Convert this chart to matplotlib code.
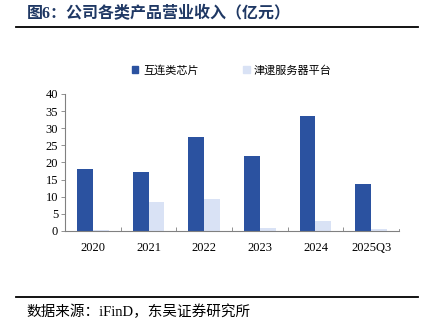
import numpy as np
import matplotlib
matplotlib.use("Agg")
import matplotlib.pyplot as plt
from matplotlib.lines import Line2D
from matplotlib.patches import Patch

plt.rcParams['font.family'] = ['Liberation Serif', 'Noto Sans CJK SC', 'DejaVu Sans']

# data (亿元)
years = ['2020', '2021', '2022', '2023', '2024', '2025Q3']
chips = [18.0, 17.2, 27.4, 22.0, 33.6, 13.7]      # 互连类芯片
servers = [0.3, 8.5, 9.3, 0.9, 2.8, 0.6]         # 津逮服务器平台

dark = '#2B52A0'
light = '#D9E2F5'
cjk = ['Noto Sans CJK SC', 'DejaVu Sans']

fig = plt.figure(figsize=(4.26, 3.29), dpi=100)
ax = fig.add_axes([0.1526, 0.2979, 0.7840, 0.4164])

x = np.arange(len(years))
w = 0.285
ax.bar(x - w / 2, chips, width=w, color=dark)
ax.bar(x + w / 2, servers, width=w, color=light)

ax.set_xlim(-0.5, len(years) - 0.5)
ax.set_ylim(0, 40)
ax.set_yticks(range(0, 41, 5))
ax.set_xticks(x)
ax.set_xticklabels(years)
ax.tick_params(axis='x', length=0, labelsize=9, pad=8)
ax.tick_params(axis='y', length=3, width=0.6, labelsize=9, pad=2, color='#808080')
ax.set_xticks(np.arange(0.5, len(years) - 0.5, 1), minor=True)
ax.tick_params(axis='x', which='minor', direction='in', length=3, width=0.6, color='#808080')
for s in ['top', 'right']:
    ax.spines[s].set_visible(False)
for s in ['left', 'bottom']:
    ax.spines[s].set_color('#808080')
    ax.spines[s].set_linewidth(0.8)
# closing tick at right end
ax.plot([len(years) - 0.5] * 2, [0, 0.7], color='#808080', lw=0.6, clip_on=False)

handles = [Patch(color=dark, label='互连类芯片'), Patch(color=light, label='津逮服务器平台')]
ax.legend(handles=handles, loc='lower left', bbox_to_anchor=(0.17, 1.06), ncol=2,
          frameon=False, prop={'family': cjk, 'size': 8}, handlelength=0.6,
          handleheight=0.6, handletextpad=0.4, columnspacing=4.0)

fig.text(0.062, 0.958, '图6：公司各类产品营业收入（亿元）',
         family=['Liberation Serif', 'Noto Sans CJK SC'], fontsize=11.5,
         fontweight='bold', color='#1F3864', va='center', ha='left')
fig.add_artist(Line2D([0.038, 0.982], [0.918, 0.918], color='black', lw=1.3))
fig.add_artist(Line2D([0.038, 0.982], [0.097, 0.097], color='black', lw=1.3))
fig.text(0.062, 0.052, '数据来源：iFinD，东吴证券研究所', family=['Liberation Serif', 'Noto Sans CJK SC'],
         fontsize=10.5, va='center', ha='left')

fig.savefig('out.png', dpi=100)
